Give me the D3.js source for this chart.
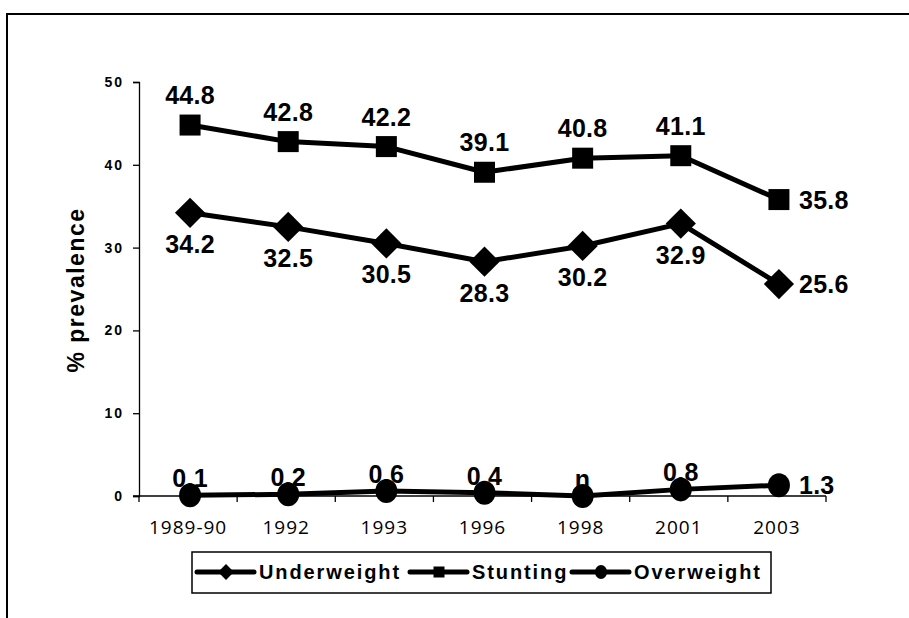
<!DOCTYPE html>
<html>
<head>
<meta charset="utf-8">
<script src="https://cdn.jsdelivr.net/npm/d3@7"></script>
<style>
  html, body { margin: 0; padding: 0; background: #fff; }
  svg { display: block; }
</style>
</head>
<body>
<svg id="chart" width="909" height="618"></svg>
<script>
// ---- data ----
const categories = ["1989-90", "1992", "1993", "1996", "1998", "2001", "2003"];
const underweight = [34.2, 32.5, 30.5, 28.3, 30.2, 32.9, 25.6];
const stunting    = [44.8, 42.8, 42.2, 39.1, 40.8, 41.1, 35.8];
const overweight  = [0.1, 0.2, 0.6, 0.4, 0, 0.8, 1.3];
const overweightLabels = ["0.1", "0.2", "0.6", "0.4", "n", "0.8", "1.3"];
const yTicks = [0, 10, 20, 30, 40, 50];
const seriesNames = ["Underweight", "Stunting", "Overweight"];

// ---- setup ----
const svg = d3.select("#chart");

// outer frame (cut off at right/bottom like the reference)
svg.append("rect").attr("x", 7).attr("y", 14).attr("width", 1000).attr("height", 1000)
  .attr("fill", "none").attr("stroke", "#000").attr("stroke-width", 2);

const plot = { left: 139, right: 826, top: 82, bottom: 496 };

const x = d3.scaleBand().domain(categories).range([plot.left, plot.right]).padding(0);
const y = d3.scaleLinear().domain([0, 50]).range([plot.bottom, plot.top]);
const cx = d => x(d) + x.bandwidth() / 2 + 2;

// ---- axes ----
const yAxis = svg.append("g").attr("transform", `translate(${plot.left},0)`)
  .call(d3.axisLeft(y).tickValues(yTicks).tickSize(6).tickPadding(9).tickFormat(d3.format("d")));
yAxis.select(".domain").attr("stroke", "#000").attr("stroke-width", 1.3);
yAxis.selectAll(".tick line").attr("stroke", "#000").attr("stroke-width", 1.3);
yAxis.selectAll(".tick text")
  .attr("font-family", "Liberation Sans, Arial, sans-serif")
  .attr("font-weight", "bold").attr("font-size", 14).attr("letter-spacing", "2px")
  .attr("fill", "#000");

// x axis: line at y=0, ticks at band boundaries
const xg = svg.append("g");
xg.append("line").attr("x1", plot.left - 6).attr("x2", plot.right)
  .attr("y1", y(0)).attr("y2", y(0)).attr("stroke", "#000").attr("stroke-width", 1.3);
const boundaries = categories.map(c => x(c)).concat([x(categories[categories.length - 1]) + x.bandwidth()]);
xg.selectAll("line.xt").data(boundaries).enter().append("line")
  .attr("class", "xt")
  .attr("x1", d => d).attr("x2", d => d)
  .attr("y1", y(0)).attr("y2", y(0) + 6)
  .attr("stroke", "#000").attr("stroke-width", 1.3);
xg.selectAll("text.xl").data(categories).enter().append("text")
  .attr("class", "xl")
  .attr("x", d => cx(d) - 2).attr("y", y(0) + 38)
  .attr("text-anchor", "middle")
  .attr("font-family", "Open Sans, sans-serif").attr("font-size", 19)
  .attr("letter-spacing", "1px")
  .attr("fill", "#000")
  .text(d => d);

// y axis title
svg.append("text")
  .attr("transform", `translate(84, 290) rotate(-90)`)
  .attr("text-anchor", "middle")
  .attr("font-family", "Liberation Sans, Arial, sans-serif")
  .attr("font-weight", "bold").attr("font-size", 23).attr("letter-spacing", "1.5px")
  .attr("fill", "#000")
  .text("% prevalence");

// ---- series ----
const lineGen = d3.line().x(d => cx(d.cat)).y(d => y(d.v));
const toPts = arr => arr.map((v, i) => ({ cat: categories[i], v, i }));

const series = [
  { name: "Underweight", values: toPts(underweight), labels: underweight.map(String), marker: "diamond", pos: "below" },
  { name: "Stunting", values: toPts(stunting), labels: stunting.map(String), marker: "square", pos: "above" },
  { name: "Overweight", values: toPts(overweight), labels: overweightLabels, marker: "circle", pos: "aboveClose" }
];

const labelFont = { family: "Liberation Sans, Arial, sans-serif", size: 25 };

series.forEach(s => {
  svg.append("path").datum(s.values)
    .attr("d", lineGen).attr("fill", "none").attr("stroke", "#000")
    .attr("stroke-width", 5).attr("stroke-linejoin", "round");
});

// labels
series.forEach(s => {
  const last = s.values.length - 1;
  svg.selectAll(null).data(s.values).enter().append("text")
    .attr("x", d => d.i === last ? cx(d.cat) + 20 : cx(d.cat))
    .attr("y", d => {
      const py = y(d.v);
      if (d.i === last) return py + 9;
      if (s.pos === "above") return py - 21;
      if (s.pos === "below") return py + 40;
      return py - 8;
    })
    .attr("text-anchor", d => d.i === last ? "start" : "middle")
    .attr("font-family", labelFont.family).attr("font-weight", "bold")
    .attr("font-size", labelFont.size).attr("letter-spacing", "0.3px")
    .attr("fill", "#000")
    .text(d => s.labels[d.i]);
});

// markers
function drawMarker(g, type, px, py, size) {
  if (type === "square") {
    g.append("rect").attr("x", px - size / 2).attr("y", py - size / 2)
      .attr("width", size).attr("height", size).attr("fill", "#000");
  } else if (type === "diamond") {
    const h = size * 0.72;
    g.append("path").attr("d", `M${px},${py - h} L${px + h},${py} L${px},${py + h} L${px - h},${py} Z`).attr("fill", "#000");
  } else {
    g.append("ellipse").attr("cx", px).attr("cy", py).attr("rx", size / 2 + 0.5).attr("ry", size / 2 + 1.5).attr("fill", "#000");
  }
}
series.forEach(s => {
  const g = svg.append("g");
  s.values.forEach(d => drawMarker(g, s.marker, cx(d.cat), y(d.v), 21));
});

// ---- legend ----
const legend = svg.append("g");
legend.append("rect").attr("x", 192).attr("y", 552).attr("width", 579).attr("height", 41)
  .attr("fill", "#fff").attr("stroke", "#000").attr("stroke-width", 1.5);
const legendX = [197, 410, 572];
series.forEach((s, i) => {
  const lx = legendX[i], ly = 572;
  legend.append("line").attr("x1", lx).attr("x2", lx + 57).attr("y1", ly).attr("y2", ly)
    .attr("stroke", "#000").attr("stroke-width", 5).attr("stroke-linecap", "round");
  drawMarker(legend, s.marker, lx + 29, ly, 11);
  legend.append("text").attr("x", lx + 62).attr("y", ly + 7)
    .attr("font-family", "Liberation Sans, Arial, sans-serif").attr("font-weight", "bold")
    .attr("font-size", 20).attr("letter-spacing", "1.9px").attr("fill", "#000")
    .text(seriesNames[i]);
});
</script>
</body>
</html>
